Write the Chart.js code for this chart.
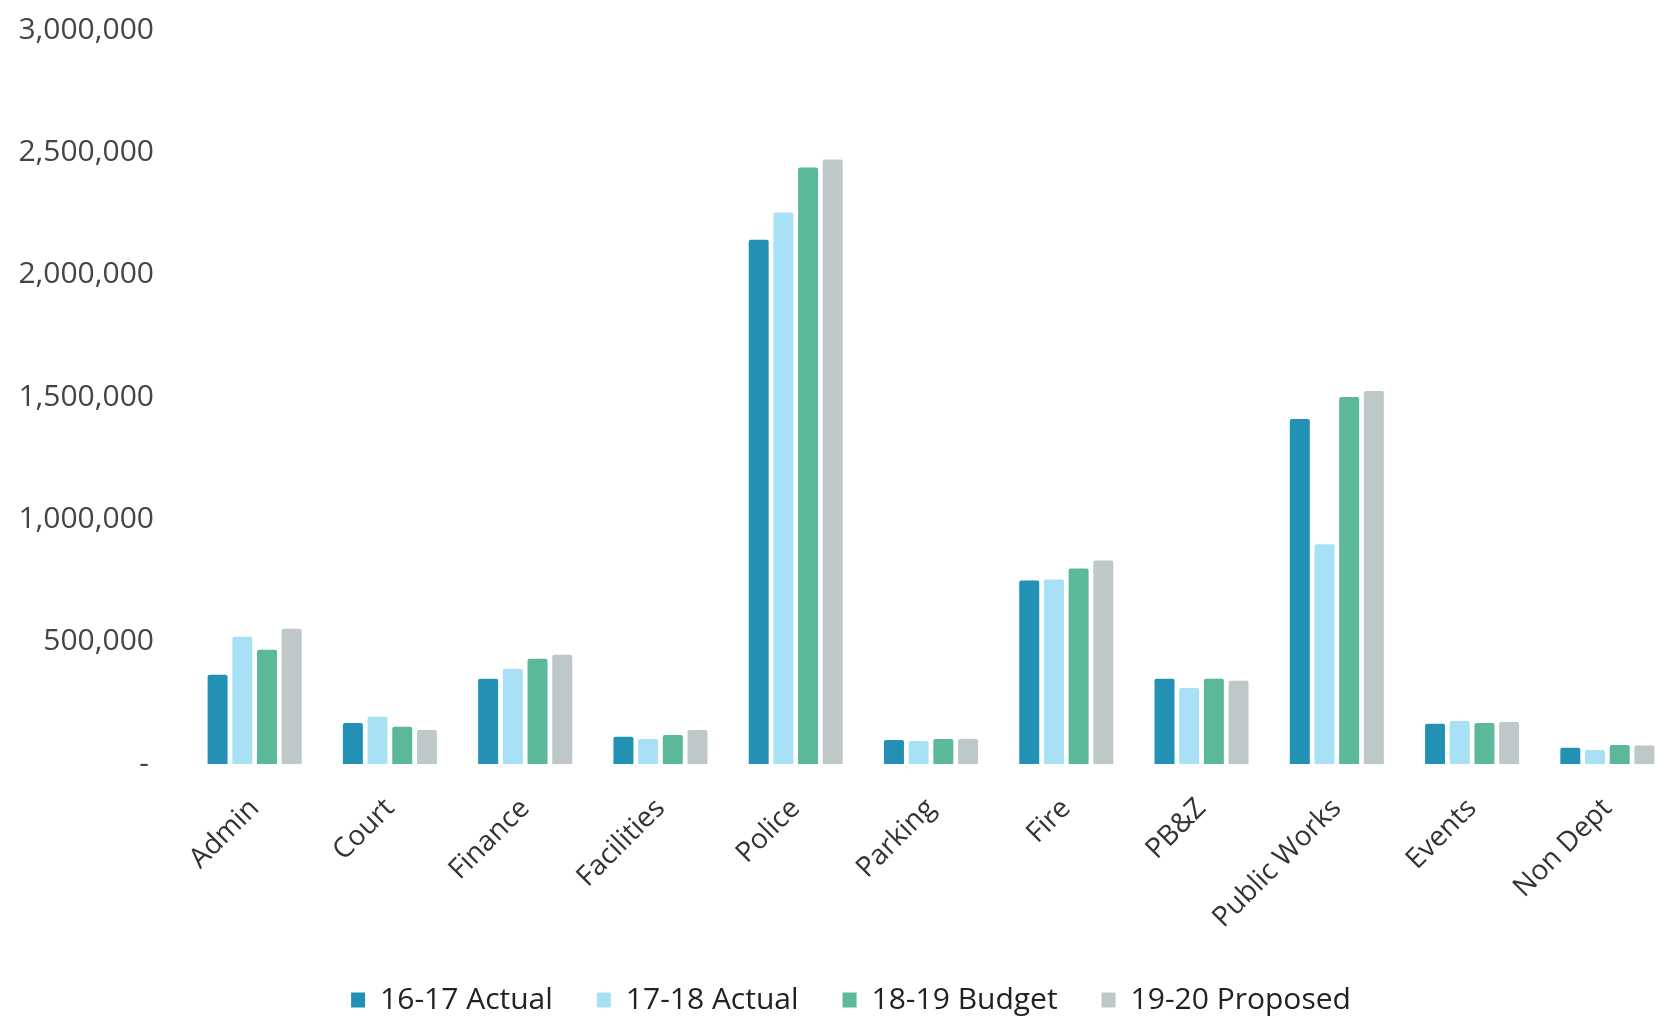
<!DOCTYPE html>
<html>
<head>
<meta charset="utf-8">
<script src="https://cdn.jsdelivr.net/npm/chart.js@4"></script>
<style>
  html, body { margin: 0; padding: 0; background: #fff; overflow: hidden; }
  #wrap { width: 1658px; height: 1021px; overflow: hidden; }
</style>
</head>
<body>
<div id="wrap"><canvas id="mychart" width="1702" height="1021"></canvas></div>
<script>
const departments = ['Admin', 'Court', 'Finance', 'Facilities', 'Police', 'Parking', 'Fire', 'PB&Z', 'Public Works', 'Events', 'Non Dept']
const actual1617 = [365000, 168000, 348000, 111000, 2143000, 98000, 750000, 348000, 1410000, 164000, 66000]
const actual1718 = [520000, 193000, 389000, 102000, 2254000, 94000, 754000, 311000, 898000, 176000, 57000]
const budget1819 = [467000, 152000, 430000, 119000, 2438000, 102000, 799000, 348000, 1500000, 168000, 78000]
const proposed1920 = [553000, 139000, 447000, 139000, 2471000, 102000, 832000, 340000, 1525000, 172000, 76000]
const seriesNames = ['16-17 Actual', '17-18 Actual', '18-19 Budget', '19-20 Proposed']
const seriesColors = ['#2391b3', '#a8e0f6', '#5cb89b', '#bfc8c8']

const font = "'Open Sans', sans-serif"

// nudge the legend right so it sits centred like the original
const legendShift = {
    id: 'legendShift',
    afterLayout(c) {
        c.legend.left += 6
        c.legend.right += 6
    }
}

var ctx = document.getElementById('mychart').getContext('2d')
const chart = new Chart(ctx, {
    type: 'bar',
    data: {
        labels: departments,
        datasets: [actual1617, actual1718, budget1819, proposed1920].map((vals, i) => ({
            label: seriesNames[i],
            data: vals,
            backgroundColor: seriesColors[i],
            borderWidth: 0,
            borderRadius: 2,
            categoryPercentage: 0.73,
            barPercentage: 0.81
        }))
    },
    plugins: [legendShift],
    options: {
        responsive: false,
        animation: false,
        layout: { padding: { top: 30, right: 27, left: 15, bottom: -4 } },
        plugins: {
            tooltip: { enabled: false },
            legend: {
                position: 'bottom',
                labels: {
                    boxWidth: 14,
                    boxHeight: 15,
                    padding: 44,
                    color: '#222',
                    font: { family: font, size: 30 }
                }
            }
        },
        scales: {
            x: {
                grid: { display: false },
                border: { display: false },
                ticks: {
                    minRotation: 45,
                    maxRotation: 45,
                    padding: 20,
                    color: '#333',
                    font: { family: font, size: 28 }
                },
                afterFit: s => { s.height = 177 }
            },
            y: {
                min: 0,
                max: 3000000,
                grid: { display: false, tickLength: 28 },
                border: { display: false },
                ticks: {
                    stepSize: 500000,
                    padding: 5,
                    color: '#444',
                    font: { family: font, size: 30 },
                    callback: v => v === 0 ? '-\u2009' : v.toLocaleString('en-US')
                },
                afterFit: s => { s.width = 172 }
            }
        }
    }
})
</script>
</body>
</html>
